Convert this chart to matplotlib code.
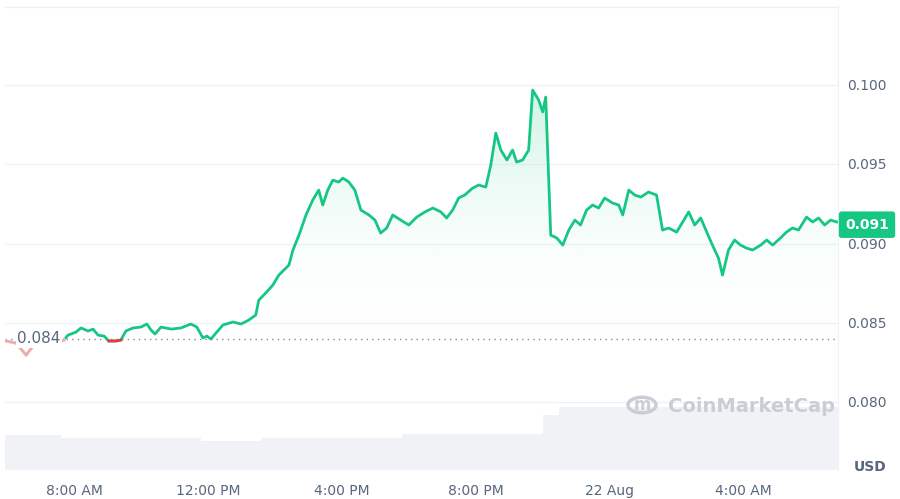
import matplotlib.pyplot as plt
import numpy as np
from matplotlib.patches import Polygon, Circle

# hours since 00:00 on 21 Aug
hours = [5.97, 6.27, 6.57, 6.87, 7.31, 7.70, 7.82, 8.06, 8.21, 8.42, 8.57, 8.72, 8.90, 9.04, 9.25, 9.40,
         9.55, 9.76, 10.00, 10.18, 10.30, 10.42, 10.60, 10.90, 11.19, 11.49, 11.67, 11.85, 11.97, 12.09,
         12.24, 12.45, 12.75, 12.99, 13.22, 13.43, 13.52, 13.73, 13.94, 14.12, 14.27, 14.42, 14.54, 14.72,
         14.93, 15.13, 15.31, 15.43, 15.58, 15.73, 15.91, 16.03, 16.21, 16.39, 16.57, 16.81, 16.99, 17.16,
         17.34, 17.52, 17.76, 18.00, 18.24, 18.48, 18.72, 18.96, 19.13, 19.31, 19.49, 19.67, 19.91, 20.09,
         20.30, 20.45, 20.60, 20.75, 20.93, 21.10, 21.22, 21.40, 21.58, 21.70, 21.88, 22.00, 22.09, 22.18,
         22.24, 22.42, 22.60, 22.78, 22.96, 23.13, 23.31, 23.49, 23.67, 23.85, 24.09, 24.27, 24.39, 24.57,
         24.75, 24.93, 25.16, 25.40, 25.58, 25.76, 26.00, 26.18, 26.36, 26.54, 26.72, 26.90, 27.07, 27.25,
         27.37, 27.55, 27.73, 27.91, 28.09, 28.27, 28.51, 28.69, 28.87, 29.10, 29.28, 29.46, 29.64, 29.88,
         30.06, 30.24, 30.42, 30.60, 30.78]
prices = [0.08385, 0.08372, 0.08296, 0.08378, 0.08359, 0.08391, 0.08422, 0.08441, 0.08467, 0.08448, 0.08460,
          0.08422, 0.08416, 0.08385, 0.08385, 0.08391, 0.08448, 0.08467, 0.08473, 0.08492, 0.08454, 0.08429,
          0.08473, 0.08460, 0.08467, 0.08492, 0.08473, 0.08404, 0.08416, 0.08397, 0.08435, 0.08486, 0.08505,
          0.08492, 0.08517, 0.08549, 0.08643, 0.08688, 0.08738, 0.08801, 0.08833, 0.08864, 0.08959, 0.09053,
          0.09180, 0.09274, 0.09337, 0.09243, 0.09337, 0.09400, 0.09388, 0.09413, 0.09388, 0.09337, 0.09211,
          0.09180, 0.09148, 0.09066, 0.09098, 0.09180, 0.09148, 0.09117, 0.09167, 0.09199, 0.09224, 0.09199,
          0.09161, 0.09211, 0.09287, 0.09306, 0.09350, 0.09369, 0.09356, 0.09495, 0.09697, 0.09590, 0.09527,
          0.09590, 0.09514, 0.09527, 0.09590, 0.09968, 0.09905, 0.09830, 0.09924, 0.09400, 0.09053, 0.09035,
          0.08990, 0.09085, 0.09148, 0.09117, 0.09211, 0.09243, 0.09224, 0.09287, 0.09255, 0.09243, 0.09180,
          0.09337, 0.09306, 0.09293, 0.09325, 0.09306, 0.09085, 0.09098, 0.09072, 0.09136, 0.09199, 0.09117,
          0.09161, 0.09072, 0.08990, 0.08908, 0.08801, 0.08959, 0.09022, 0.08990, 0.08971, 0.08959, 0.08990,
          0.09022, 0.08990, 0.09035, 0.09072, 0.09098, 0.09085, 0.09167, 0.09136, 0.09161, 0.09117, 0.09148,
          0.09136]
vol_hours = [5.9, 7.6, 11.8, 13.6, 17.8, 22.0, 22.5, 30.95]
volumes = [35, 32, 29, 32, 36, 55, 63, 63]

baseline = 0.084
last_price = 0.091
tick_hours = [8, 12, 16, 20, 24, 28]
tick_labels = ['8:00 AM', '12:00 PM', '4:00 PM', '8:00 PM', '22 Aug', '4:00 AM']
price_ticks = [0.080, 0.085, 0.090, 0.095, 0.100]

green = '#16c784'
red = '#ea3943'
grey = '#58667e'

t = np.array(hours)
p = np.array(prices)

fig = plt.figure(figsize=(9, 4.99), dpi=100)
ax = fig.add_axes([5/900, 29/499, 833/900, 465/499])
ax.set_xlim(5.94, 30.82)
ax.set_ylim(0.07571, 0.10505)

# volume band
axv = ax.twinx()
axv.set_ylim(0, 465)
axv.fill_between(vol_hours, volumes, step='post', color='#f1f2f5', lw=0)
axv.set_yticks([])
axv.set_zorder(0)
ax.set_zorder(1)
ax.patch.set_visible(False)
for s in axv.spines.values():
    s.set_visible(False)

for v in price_ticks + [0.10505 - 0.0001]:
    ax.axhline(v, color='#eff2f5', lw=1, zorder=0)

# gradient fill from line down to baseline
top = p.max()
grad = np.linspace(0.0, 0.45, 256).reshape(-1, 1)
cmap = plt.matplotlib.colors.LinearSegmentedColormap.from_list('g', ['#ffffff00', green])
img = ax.imshow(grad, extent=[t[0], t[-1], baseline, top], origin='lower', aspect='auto',
                cmap=cmap, vmin=0, vmax=1, zorder=1)
verts = np.column_stack([np.r_[t[0], t, t[-1]], np.r_[baseline, np.maximum(p, baseline), baseline]])
poly = Polygon(verts, closed=True, transform=ax.transData, facecolor='none', edgecolor='none')
ax.add_patch(poly)
img.set_clip_path(poly)

ax.plot(t, p, color=green, lw=2, zorder=3, solid_joinstyle='round')
below = np.ma.masked_where(p > 0.08415, p)
ax.plot(t, below, color=red, lw=2, zorder=4)
ax.plot(t[:6], p[:6], color='white', lw=2.5, alpha=0.7, zorder=5)
ax.plot(t[:6], p[:6], color=red, lw=1.2, alpha=0.25, zorder=6)

ax.axhline(baseline, color='#808a9d', lw=1, ls=(0, (1, 3)), zorder=2)
ax.text(6.3, baseline, '0.084', ha='left', va='center', fontsize=11, color=grey,
        bbox=dict(boxstyle='square,pad=0.1', fc='white', ec='none'), zorder=7)

ax.set_xticks(tick_hours, tick_labels)
ax.set_yticks([])
ax.tick_params(axis='x', length=0, pad=10, labelsize=10, labelcolor=grey)
for s in ['top', 'left', 'bottom']:
    ax.spines[s].set_visible(False)
ax.spines['right'].set_color('#eff2f5')

for v in price_ticks:
    fig.text(847/900, ax.transData.transform((0, v))[1] / 499 - 0.002, f'{v:.3f}',
             ha='left', va='center', fontsize=10, color=grey)
ypix = ax.transData.transform((0, last_price))[1] / 499
fig.text(867/900, ypix + 0.006, f'{last_price:.3f}', ha='center', va='center', fontsize=10,
         color='white', fontweight='bold',
         bbox=dict(boxstyle='round,pad=0.45,rounding_size=0.2', fc=green, ec='none'))
fig.text(870/900, 32/499, 'USD', ha='center', va='center', fontsize=10, color=grey, fontweight='bold')

# watermark
fig.text(668/900, 93/499, 'CoinMarketCap', ha='left', va='center', fontsize=14,
         color='#c9ced6', fontweight='bold')
fig.patches.append(Circle((642/900, 94/499), 14/900, transform=fig.transFigure,
                          fc='none', ec='#c9ced6', lw=2.5))
fig.text(642/900, 94/499, 'm', ha='center', va='center', fontsize=12, color='#c9ced6',
         fontweight='bold')

fig.savefig('out.png')
